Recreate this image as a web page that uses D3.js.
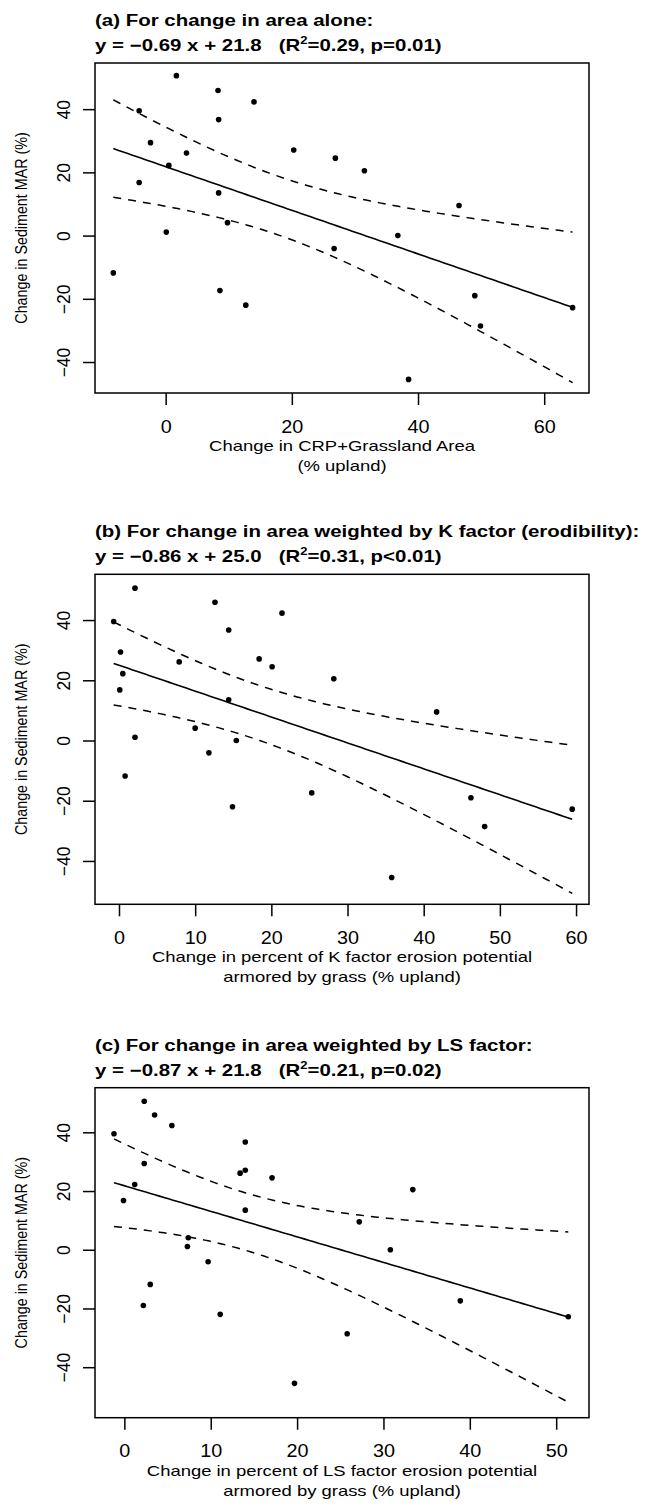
<!DOCTYPE html>
<html>
<head>
<meta charset="utf-8">
<script src="https://cdn.jsdelivr.net/npm/d3@7"></script>
<style>
  body { margin: 0; background: #fff; }
  text { font-family: "Liberation Sans", Arial, sans-serif; fill: #000; }
</style>
</head>
<body>
<script>
// sediment MAR change (%) for the 25 sites, same order in every panel
const sedimentMAR = [50.6, 45.9, 42.3, 39.5, 36.7, 29.4, 26.1, 27.1, 24.5, 22.2, 20.5, 16.8, 13.5,
  9.5, 4.1, 1.1, 0.0, -4.1, -11.8, -17.4, -19.0, -22.0, -22.8, -28.6, -45.5];
// (a) change in CRP+grassland area
const areaChange = [1.7, 8.3, 14.0, -4.2, 8.4, -2.4, 3.3, 20.3, 26.9, 0.5, 31.5, -4.2, 8.4,
  46.5, 9.8, 0.1, 36.8, 26.7, -8.3, 8.6, 49.0, 12.7, 64.5, 49.9, 38.5];
// (b) K factor weighted
const kFactorChange = [2.1, 12.6, 21.4, -0.7, 14.4, 0.2, 7.9, 18.4, 20.1, 0.5, 28.2, 0.1, 14.4,
  41.7, 10.0, 2.1, 15.4, 11.8, 0.8, 25.3, 46.2, 14.9, 59.5, 48.0, 35.8];
// (c) LS factor weighted
const lsFactorChange = [2.3, 3.5, 5.5, -1.2, 14.0, 2.3, 13.4, 14.0, 17.1, 1.2, 33.4, -0.1, 14.0,
  27.2, 7.4, 7.3, 30.8, 9.7, 3.0, 38.9, 2.2, 11.1, 51.4, 25.8, 19.7];

const titles = [
  "(a) For change in area alone:",
  "(b) For change in area weighted by K factor (erodibility):",
  "(c) For change in area weighted by LS factor:"
];
const slopes = [-0.69, -0.86, -0.87];
const intercepts = [21.8, 25.0, 21.8];
const r2Labels = ["0.29", "0.31", "0.21"];
const pLabels = ["p=0.01", "p<0.01", "p=0.02"];
const xTitles = [
  ["Change in CRP+Grassland Area", "(% upland)"],
  ["Change in percent of K factor erosion potential", "armored by grass (% upland)"],
  ["Change in percent of LS factor erosion potential", "armored by grass (% upland)"]
];
const xTickValues = [[0, 20, 40, 60], [0, 10, 20, 30, 40, 50, 60], [0, 10, 20, 30, 40, 50]];
const yTickValues = [-40, -20, 0, 20, 40];
const xDomains = [[-11.2, 67.1], [-3.15, 61.7], [-3.4, 53.8]];
const yDomains = [[-49.8, 54.6], [-54.4, 55.2], [-57.2, 55.2]];
const yTitle = "Change in Sediment MAR (%)";

const W = 645, H = 1507;
const left = 95, right = 589, plotH = 330;
const tops = [63, 574.3, 1087.7];
const tCrit = 2.0687; // t(0.975, 23)
const stretch = 1.24;  // the source figure's text is a bit wide

const svg = d3.select("body").append("svg")
  .attr("width", W).attr("height", H);

const xSets = [areaChange, kFactorChange, lsFactorChange];

xSets.forEach((xs, i) => {
  const top = tops[i], bottom = top + plotH;
  const x = d3.scaleLinear().domain(xDomains[i]).range([left, right]);
  const y = d3.scaleLinear().domain(yDomains[i]).range([bottom, top]);
  const pts = xs.map((v, j) => ({x: v, y: sedimentMAR[j]}));
  const g = svg.append("g");

  // titles
  g.append("text")
    .attr("transform", `translate(${left},${top - 37}) scale(${stretch},1)`)
    .attr("font-size", 16.5).attr("font-weight", "bold")
    .text(titles[i]);
  const eq = g.append("text")
    .attr("transform", `translate(${left},${top - 12}) scale(${stretch},1)`)
    .attr("font-size", 16.5).attr("font-weight", "bold")
    .style("white-space", "pre");
  const b = slopes[i], a = intercepts[i];
  eq.append("tspan").text(`y = \u2212${Math.abs(b).toFixed(2)} x + ${a.toFixed(1)}   (R`);
  eq.append("tspan").attr("font-size", 10.5).attr("dy", -7).text("2");
  eq.append("tspan").attr("dy", 7).text(`=${r2Labels[i]}, ${pLabels[i]})`);

  // axes
  const xAxis = g.append("g")
    .attr("transform", `translate(0,${bottom})`)
    .call(d3.axisBottom(x).tickValues(xTickValues[i]).tickSize(12).tickPadding(15));
  xAxis.select(".domain").remove();
  xAxis.selectAll("line").attr("stroke-width", 1.5);
  xAxis.selectAll("text").attr("font-size", 18).attr("font-family", null)
    .attr("transform", "scale(1.1,1)");

  const yAxis = g.append("g")
    .attr("transform", `translate(${left},0)`)
    .call(d3.axisLeft(y).tickValues(yTickValues).tickSize(12));
  yAxis.select(".domain").remove();
  yAxis.selectAll("line").attr("stroke-width", 1.5);
  yAxis.selectAll("text")
    .attr("font-size", 17.5).attr("font-family", null)
    .attr("x", 0).attr("dy", 0)
    .attr("text-anchor", "middle")
    .attr("transform", "translate(-25,0) rotate(-90)")
    .text(d => d < 0 ? "\u2212" + Math.abs(d) : d);

  // box
  g.append("rect")
    .attr("x", left).attr("y", top)
    .attr("width", right - left).attr("height", plotH)
    .attr("fill", "none").attr("stroke", "#000").attr("stroke-width", 1.5);

  // axis titles
  g.append("text")
    .attr("transform", `translate(27,${(top + bottom) / 2}) scale(1.2,1) rotate(-90)`)
    .attr("text-anchor", "middle").attr("font-size", 14.3)
    .text(yTitle);
  xTitles[i].forEach((t, k) => {
    g.append("text")
      .attr("transform", `translate(${(left + right) / 2},${bottom + 58 + k * 20}) scale(1.23,1)`)
      .attr("text-anchor", "middle").attr("font-size", 15)
      .text(t);
  });

  // regression fit and 95% confidence band
  const n = pts.length;
  const xbar = d3.mean(xs);
  const sxx = d3.sum(xs, v => (v - xbar) ** 2);
  const sse = d3.sum(pts, p => (p.y - (a + b * p.x)) ** 2);
  const s = Math.sqrt(sse / (n - 2));
  const [x0, x1] = d3.extent(xs);
  const grid = d3.range(0, 101).map(k => x0 + (x1 - x0) * k / 100);
  const band = grid.map(v => {
    const fit = a + b * v;
    const h = tCrit * s * Math.sqrt(1 / n + (v - xbar) ** 2 / sxx);
    return {x: v, fit, lo: fit - h, hi: fit + h};
  });

  const line = key => d3.line().x(d => x(d.x)).y(d => y(d[key]));
  g.append("path").datum(band).attr("d", line("fit"))
    .attr("fill", "none").attr("stroke", "#000").attr("stroke-width", 1.6);
  ["lo", "hi"].forEach(key => {
    g.append("path").datum(band).attr("d", line(key))
      .attr("fill", "none").attr("stroke", "#000").attr("stroke-width", 1.5)
      .attr("stroke-dasharray", "8,7");
  });

  g.selectAll("circle").data(pts).join("circle")
    .attr("cx", d => x(d.x)).attr("cy", d => y(d.y)).attr("r", 2.8)
    .attr("fill", "#000");
});
</script>
</body>
</html>
